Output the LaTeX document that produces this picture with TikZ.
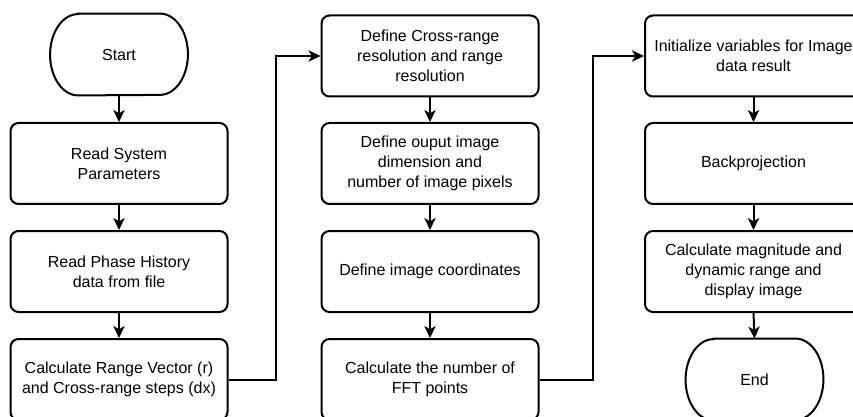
\documentclass[tikz,border=0pt]{standalone}
\usepackage{fontspec}
\setmainfont{Liberation Sans}
\usetikzlibrary{arrows.meta}
\begin{document}
\begin{tikzpicture}[x=0.75pt,y=-0.75pt,
  txt/.style={align=center, font=\fontsize{12pt}{15pt}\selectfont, inner sep=0pt},
  proc/.style={txt, draw, line width=1.5pt, rounded corners=6pt, minimum width=162.75pt, minimum height=60.75pt},
  term/.style={txt, minimum width=103pt, minimum height=61pt},
  termline/.style={line width=1.5pt},
  arr/.style={line width=1.5pt, -{Stealth[length=9pt,width=8.5pt,inset=2.5pt]}}]
\useasboundingbox (0,0) rectangle (853,417);
\clip (0,0) rectangle (853,417);
% column 1
\node[term] (s) at (119,54.5) {Start};
\draw[termline] ([xshift=21pt]s.north west) -- ([xshift=-21pt]s.north east)
  arc[start angle=90, end angle=-90, x radius=21pt, y radius=30.5pt]
  -- ([xshift=21pt]s.south west)
  arc[start angle=270, end angle=90, x radius=21pt, y radius=30.5pt] -- cycle;
\node[proc] (a1) at (119,163.5) {Read System\\Parameters};
\node[proc] (a2) at (119,271.5) {Read Phase History\\data from file};
\node[proc] (a3) at (119,379.5) {Calculate Range Vector (r)\\and Cross-range steps (dx)};
% column 2
\node[proc] (b1) at (430,56) {Define Cross-range\\resolution and range\\resolution};
\node[proc] (b2) at (430,163.5) {Define ouput image\\dimension and\\number of image pixels};
\node[proc] (b3) at (430,271.5) {Define image coordinates};
\node[proc] (b4) at (430,379.5) {Calculate the number of\\FFT points};
% column 3
\node[proc] (c1) at (753.5,56) {Initialize variables for Image\\data result};
\node[proc] (c2) at (753.5,163.5) {Backprojection};
\node[proc] (c3) at (753.5,271.5) {Calculate magnitude and\\dynamic range and\\display image};
\node[term] (e) at (754.5,379.5) {End};
\draw[termline] ([xshift=21pt]e.north west) -- ([xshift=-21pt]e.north east)
  arc[start angle=90, end angle=-90, x radius=21pt, y radius=30.5pt]
  -- ([xshift=21pt]e.south west)
  arc[start angle=270, end angle=90, x radius=21pt, y radius=30.5pt] -- cycle;
% connectors
\draw[arr] (s.south) -- (a1.north);
\draw[arr] (a1.south) -- (a2.north);
\draw[arr] (a2.south) -- (a3.north);
\draw[arr] (a3.east) -- ++(47,0) |- (b1.west);
\draw[arr] (b1.south) -- (b2.north);
\draw[arr] (b2.south) -- (b3.north);
\draw[arr] (b3.south) -- (b4.north);
\draw[arr] (b4.east) -- ++(53,0) |- (c1.west);
\draw[arr] (c1.south) -- (c2.north);
\draw[arr] (c2.south) -- (c3.north);
\draw[arr] (c3.south) -- (e.north);
\end{tikzpicture}
\end{document}
